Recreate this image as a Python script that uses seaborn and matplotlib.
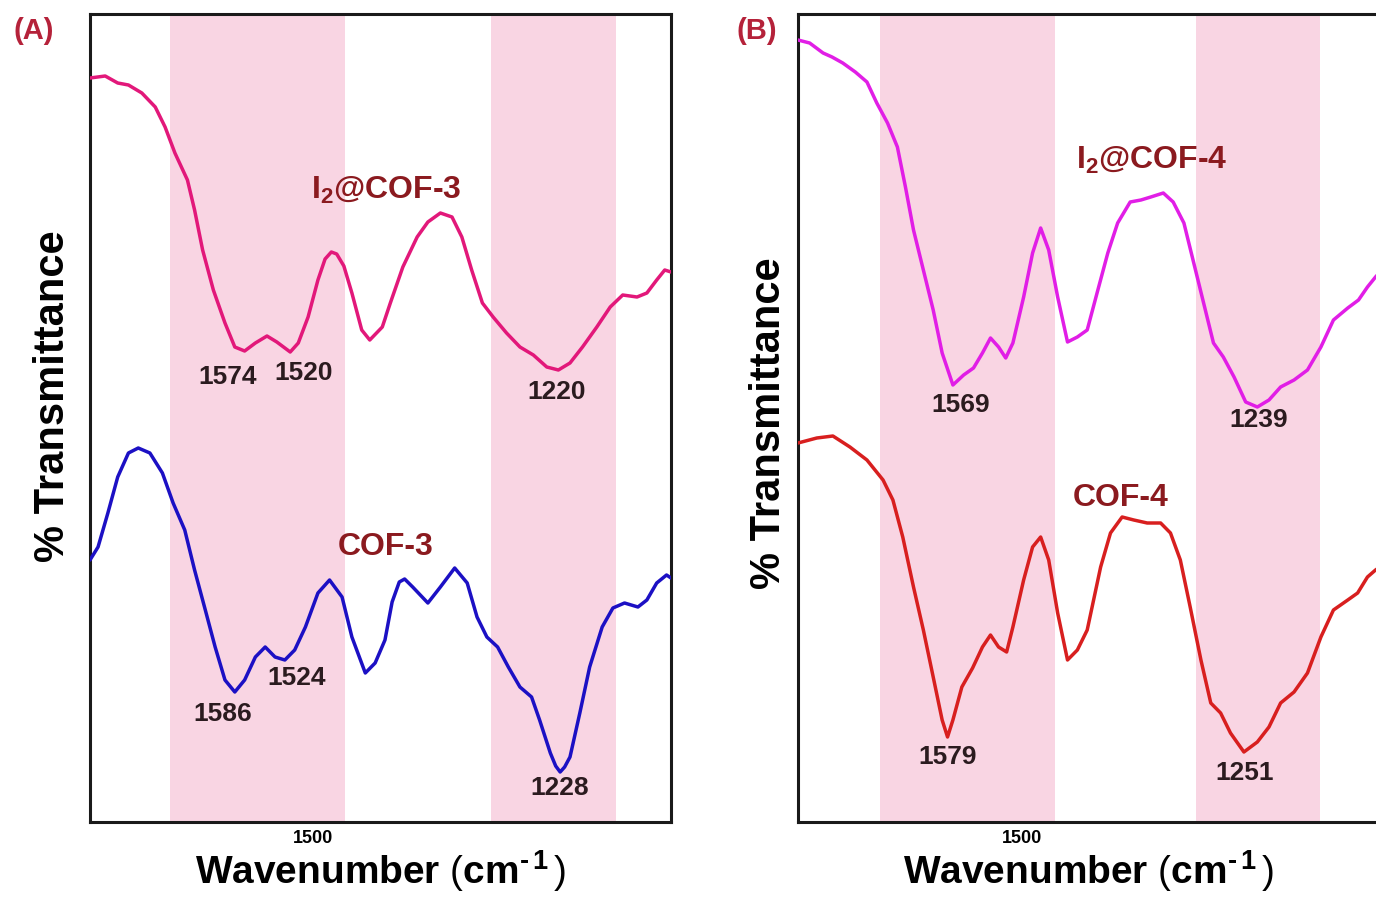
import numpy as np
import pandas as pd
import matplotlib
matplotlib.use("Agg")
import matplotlib.pyplot as plt
import seaborn as sns

# ---------------- data ----------------
# Panel A: I2@COF-3 (upper) and COF-3 (lower); wavenumber in cm-1, transmittance in a.u.
wn_i2cof3 = [1750, 1733, 1719, 1707, 1692, 1677, 1666, 1655, 1641, 1633, 1624, 1612, 1599, 1588,
             1577, 1565, 1552, 1541, 1526, 1517, 1506, 1495, 1487, 1480, 1474, 1466, 1457, 1446,
             1437, 1423, 1414, 1400, 1384, 1372, 1358, 1345, 1334, 1323, 1311, 1299, 1284, 1269,
             1254, 1239, 1226, 1213, 1199, 1183, 1168, 1154, 1138, 1127, 1116, 1107, 1100]
t_i2cof3 = [744, 746, 739, 737, 729, 715, 695, 669, 642, 612, 572, 532, 499, 475,
            471, 479, 486, 480, 470, 479, 505, 542, 563, 570, 568, 556, 529, 492,
            482, 495, 519, 555, 585, 600, 609, 605, 585, 552, 519, 505, 489, 475,
            467, 455, 452, 459, 475, 495, 515, 527, 525, 529, 542, 552, 550]

wn_cof3 = [1750, 1741, 1730, 1719, 1707, 1696, 1683, 1669, 1657, 1644, 1633, 1621, 1610, 1599,
           1588, 1577, 1565, 1554, 1543, 1532, 1521, 1509, 1495, 1482, 1468, 1457, 1442, 1431,
           1420, 1412, 1404, 1398, 1389, 1372, 1358, 1342, 1328, 1317, 1306, 1294, 1282, 1269,
           1256, 1247, 1235, 1229, 1224, 1219, 1213, 1202, 1191, 1177, 1165, 1152, 1137, 1127,
           1116, 1105, 1100]
t_cof3 = [262, 275, 309, 345, 369, 374, 369, 349, 319, 292, 252, 212, 175, 142,
          130, 142, 165, 175, 165, 162, 172, 195, 229, 242, 225, 185, 149, 159,
          182, 220, 240, 243, 235, 219, 235, 254, 239, 205, 185, 175, 155, 135,
          125, 102, 69, 56, 50, 55, 65, 109, 155, 195, 214, 219, 215, 222,
          239, 247, 244]

# Panel B: I2@COF-4 (upper) and COF-4 (lower)
wn_i2cof4 = [1750, 1737, 1722, 1712, 1700, 1686, 1673, 1662, 1650, 1639, 1630, 1621, 1610, 1599,
             1589, 1577, 1565, 1554, 1544, 1535, 1526, 1518, 1510, 1498, 1488, 1479, 1470, 1460,
             1449, 1438, 1427, 1416, 1404, 1393, 1379, 1367, 1356, 1342, 1331, 1319, 1308, 1297,
             1286, 1275, 1263, 1250, 1237, 1224, 1211, 1196, 1181, 1166, 1152, 1136, 1124, 1114,
             1105, 1100]
t_i2cof4 = [782, 779, 769, 765, 759, 750, 740, 719, 699, 675, 635, 592, 552, 512,
            469, 437, 447, 454, 469, 484, 475, 464, 479, 525, 569, 594, 572, 525,
            480, 485, 492, 529, 569, 599, 620, 622, 625, 629, 620, 599, 559, 519,
            479, 465, 445, 420, 415, 422, 435, 442, 452, 475, 502, 514, 522, 535,
            545, 550]

wn_cof4 = [1750, 1729, 1711, 1692, 1673, 1655, 1644, 1633, 1621, 1610, 1599, 1589, 1583, 1577,
           1567, 1555, 1544, 1535, 1526, 1517, 1510, 1498, 1488, 1479, 1470, 1460, 1449, 1438,
           1427, 1412, 1401, 1388, 1375, 1360, 1345, 1334, 1323, 1312, 1300, 1289, 1278, 1267,
           1252, 1237, 1224, 1211, 1196, 1181, 1166, 1152, 1136, 1125, 1114, 1105, 1100]
t_cof4 = [379, 384, 386, 375, 362, 342, 322, 285, 235, 192, 145, 102, 85, 102,
          135, 154, 175, 187, 175, 170, 195, 242, 275, 285, 262, 209, 162, 172,
          192, 255, 289, 305, 302, 299, 299, 289, 262, 215, 162, 119, 109, 89,
          70, 80, 95, 119, 130, 149, 185, 212, 222, 229, 245, 252, 255]

# highlighted wavenumber bands (cm-1)
bands_a = [(1660, 1465), (1301, 1162)]
bands_b = [(1658, 1463), (1305, 1167)]

# peak annotations: (label, wavenumber position, transmittance position)
peaks_a = [("1574", 1596, 445), ("1520", 1511, 449), ("1220", 1228, 430),
           ("1586", 1601, 108), ("1524", 1519, 144), ("1228", 1225, 34)]
peaks_b = [("1569", 1568, 417), ("1239", 1236, 402), ("1579", 1583, 65), ("1251", 1251, 49)]

curve_labels_a = [("I$_\\mathbf{2}$@COF-3", 1419, 632), ("COF-3", 1419, 275)]
curve_labels_b = [("I$_\\mathbf{2}$@COF-4", 1355, 662), ("COF-4", 1390, 324)]

xlim = (1750, 1100)
ylim = (0, 808)

# ---------------- style ----------------
sns.set_theme(style="white")
plt.rcParams["font.family"] = ["Liberation Sans", "DejaVu Sans"]
plt.rcParams["mathtext.fontset"] = "custom"
plt.rcParams["mathtext.rm"] = "Liberation Sans:bold"
plt.rcParams["mathtext.bf"] = "Liberation Sans:bold"
plt.rcParams["mathtext.sf"] = "Liberation Sans"
plt.rcParams["mathtext.it"] = "Liberation Sans:italic"
plt.rcParams["mathtext.default"] = "bf"

band_color = "#F9D5E3"
label_color = "#8B1A1F"
peak_color = "#2B1B1F"
panel_color = "#B5223A"

W, H = 1376, 898
fig = plt.figure(figsize=(W / 100, H / 100), dpi=100)
fig.patch.set_facecolor("white")

ax_a = fig.add_axes([90 / W, (H - 822) / H, 581 / W, 808 / H])
ax_b = fig.add_axes([798 / W, (H - 822) / H, 582 / W, 808 / H])

xlabel_text = "Wavenumber $\\mathsf{(}$cm$^{\\text{-}\\,\\text{1}}$$\\,\\mathsf{)}$"


def draw_panel(ax, bands, curves, peaks, labels, ylab_x, ylab_y):
    for lo, hi in bands:
        ax.axvspan(hi, lo, color=band_color, lw=0, zorder=0)
    for wn, t, col in curves:
        df = pd.DataFrame({"wn": wn, "t": t})
        sns.lineplot(data=df, x="wn", y="t", sort=False, color=col, lw=2.5, ax=ax,
                     estimator=None, zorder=3, solid_joinstyle="round",
                     solid_capstyle="round")
    for txt, x, y in peaks:
        ax.text(x, y, txt, ha="center", va="center", fontsize=19, fontweight="bold",
                color=peak_color, zorder=4)
    for txt, x, y in labels:
        ax.text(x, y, txt, ha="center", va="center", fontsize=23, fontweight="bold",
                color=label_color, zorder=4)
    ax.set_xlim(*xlim)
    ax.set_ylim(*ylim)
    ax.set_yticks([])
    ax.set_xticks([1500])
    ax.set_xticklabels(["1500"])
    ax.tick_params(axis="x", length=0, pad=6, labelsize=13, labelcolor="black")
    for lbl in ax.get_xticklabels():
        lbl.set_fontweight("bold")
    for s in ax.spines.values():
        s.set_visible(True)
        s.set_color("#1a1a1a")
        s.set_linewidth(2.2)
    ax.set_xlabel(xlabel_text, fontsize=28, fontweight="bold", labelpad=0.5, color="black")
    ax.set_ylabel("% Transmittance", fontsize=30, fontweight="bold", color="black")
    ax.yaxis.set_label_coords(ylab_x, ylab_y)
    ax.set_facecolor("white")


draw_panel(ax_a, bands_a,
           [(wn_i2cof3, t_i2cof3, "#E2187A"), (wn_cof3, t_cof3, "#1C10C4")],
           peaks_a, curve_labels_a, -0.03, 0.527)
draw_panel(ax_b, bands_b,
           [(wn_i2cof4, t_i2cof4, "#E11EE6"), (wn_cof4, t_cof4, "#D81F1F")],
           peaks_b, curve_labels_b, -0.016, 0.494)

fig.text(34 / W, 1 - 31 / H, "(A)", ha="center", va="center", fontsize=21,
         fontweight="bold", color=panel_color)
fig.text(757 / W, 1 - 31 / H, "(B)", ha="center", va="center", fontsize=21,
         fontweight="bold", color=panel_color)

fig.savefig("out.png", dpi=100, facecolor="white")
